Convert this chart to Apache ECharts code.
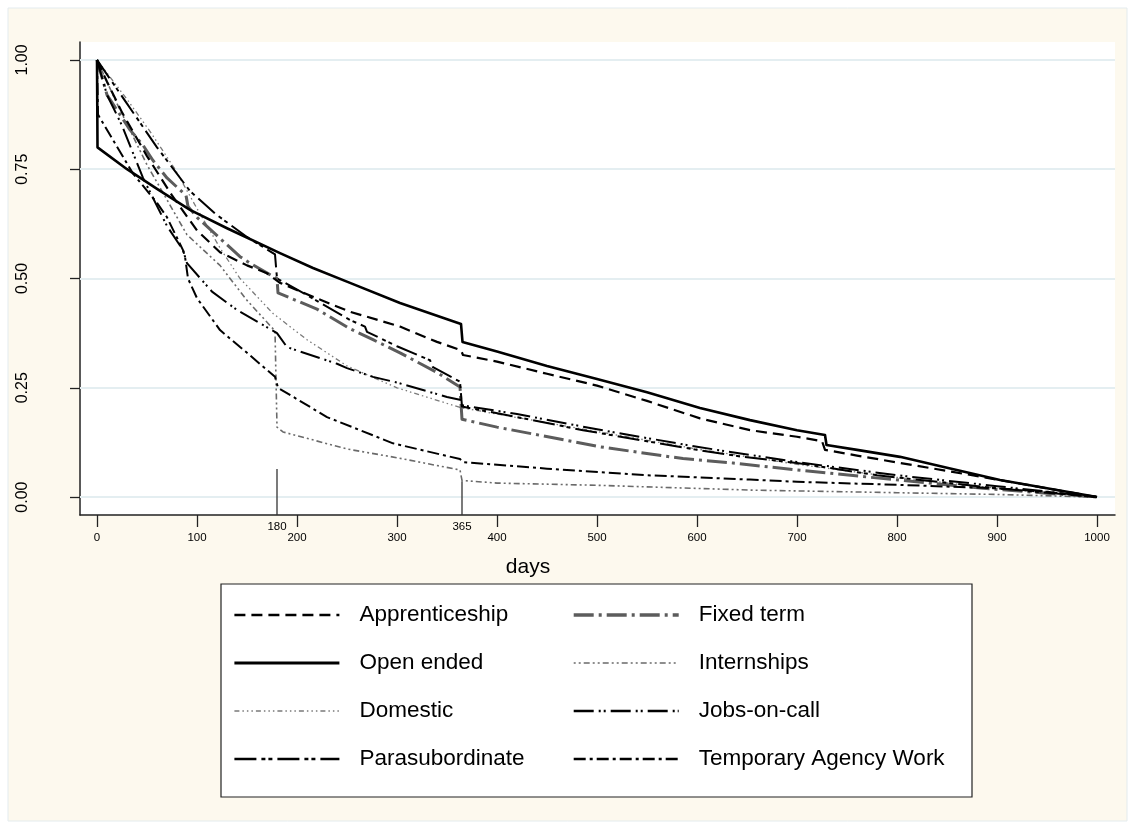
<!DOCTYPE html>
<html>
<head>
<meta charset="utf-8">
<script src="https://cdn.jsdelivr.net/npm/echarts@6/dist/echarts.min.js"></script>
<style>
html,body{margin:0;padding:0;background:#ffffff;}
#chart{width:1135px;height:830px;}
</style>
</head>
<body>
<div id="chart"></div>
<script>
// ---- data (days, survival) ----
const xTicks = [0,100,200,300,400,500,600,700,800,900,1000];
const xExtraTicks = [180,365];
const yTicks = [0,0.25,0.5,0.75,1];
const refLineDays = [180,365];
const refLineTops = [0.064,0.036];

const apprenticeship = [[0,1.0],[10,0.95],[25,0.88],[50,0.78],[75,0.69],[100,0.61],[123,0.56],[150,0.53],[170,0.512],[183,0.49],[216,0.458],[253,0.424],[303,0.39],[340,0.355],[364,0.336],[366,0.325],[400,0.31],[450,0.282],[500,0.255],[550,0.22],[603,0.18],[653,0.153],[700,0.138],[725,0.128],[728,0.108],[760,0.095],[803,0.078],[850,0.06],[900,0.04],[950,0.02],[1000,0]];
const openEnded = [[0,1.0],[0.5,0.80],[30,0.75],[60,0.705],[93,0.657],[130,0.615],[183,0.558],[216,0.524],[253,0.49],[303,0.444],[340,0.415],[364,0.396],[365.5,0.355],[400,0.333],[450,0.30],[500,0.27],[550,0.24],[603,0.204],[653,0.176],[700,0.153],[728,0.142],[729.5,0.119],[760,0.108],[803,0.092],[850,0.067],[903,0.039],[950,0.02],[1000,0]];
const domestic = [[0,1.0],[30,0.91],[55,0.83],[78,0.75],[100,0.66],[123,0.57],[143,0.50],[176,0.42],[210,0.36],[250,0.30],[300,0.25],[363,0.205],[400,0.19],[500,0.15],[600,0.11],[700,0.075],[800,0.045],[900,0.02],[1000,0]];
const parasubordinate = [[0,1.0],[30,0.90],[60,0.80],[93,0.70],[120,0.645],[150,0.595],[178,0.555],[180,0.50],[206,0.467],[253,0.405],[268,0.39],[270,0.378],[300,0.345],[333,0.313],[336,0.297],[363,0.264],[365,0.207],[420,0.183],[486,0.153],[600,0.108],[646,0.092],[700,0.078],[780,0.05],[800,0.045],[900,0.02],[1000,0]];
const fixedTerm = [[0,1.0],[10,0.92],[33,0.84],[46,0.805],[56,0.77],[70,0.73],[89,0.69],[91,0.665],[100,0.64],[143,0.55],[153,0.535],[172,0.51],[180,0.50],[181,0.467],[220,0.43],[253,0.385],[276,0.36],[303,0.33],[340,0.285],[363,0.252],[365,0.178],[400,0.16],[503,0.115],[586,0.088],[636,0.078],[700,0.062],[770,0.046],[886,0.02],[1000,0]];
const internships = [[0,1.0],[20,0.9],[50,0.76],[90,0.60],[123,0.53],[150,0.45],[178,0.38],[180,0.16],[186,0.149],[250,0.11],[300,0.09],[363,0.062],[365,0.038],[400,0.032],[500,0.027],[653,0.016],[800,0.01],[900,0.006],[1000,0]];
const jobsOnCall = [[0,1.0],[10,0.92],[25,0.85],[46,0.73],[70,0.62],[86,0.565],[90,0.535],[115,0.47],[140,0.428],[180,0.375],[190,0.343],[240,0.305],[250,0.295],[276,0.275],[300,0.262],[350,0.229],[364,0.222],[365,0.21],[420,0.19],[500,0.155],[600,0.115],[700,0.08],[800,0.05],[900,0.025],[1000,0]];
const tempAgency = [[0,1.0],[1,0.875],[16,0.817],[36,0.74],[60,0.673],[70,0.64],[86,0.565],[88,0.55],[91,0.50],[100,0.455],[123,0.382],[150,0.33],[178,0.275],[181,0.25],[230,0.183],[296,0.123],[363,0.087],[366,0.08],[450,0.065],[550,0.05],[653,0.04],[700,0.035],[800,0.028],[900,0.02],[950,0.012],[1000,0]];

const FONT = 'Liberation Sans, Arial, Helvetica, sans-serif';
const X_MIN = -17, X_MAX = 1018, Y_MIN = -0.041, Y_MAX = 1.041;

function mk(name, data, color, width, dash, z) {
  return {
    name: name, type: 'line', data: data, symbol: 'none', showSymbol: false,
    lineStyle: { color: color, width: width, type: dash, cap: 'butt', join: 'round' },
    itemStyle: { color: color }, z: z || 3, animation: false, silent: true
  };
}

const series = [
  { type: 'line', data: [], silent: true, animation: false,
    markLine: { silent: true, symbol: 'none', z: 1, animation: false, label: { show: false },
      lineStyle: { color: '#e4eef1', width: 2, type: 'solid' },
      data: yTicks.map(v => ({ yAxis: v })) } },
  mk('Internships', internships, '#6a6a6a', 1.6, [2,3,2,3,6,3]),
  mk('Domestic', domestic, '#7a7a7a', 1.3, [5,3,1.5,3,1.5,3,1.5,3]),
  mk('Fixed term', fixedTerm, '#5c5c5c', 3, [20,5,3,5]),
  mk('Temporary Agency Work', tempAgency, '#000000', 2, [12,4,3,4]),
  mk('Jobs-on-call', jobsOnCall, '#000000', 2, [20,5,2,3,2,5]),
  mk('Parasubordinate', parasubordinate, '#000000', 2, [22,5,4,3,4,5]),
  mk('Apprenticeship', apprenticeship, '#000000', 2.2, [11,6]),
  mk('Open ended', openEnded, '#000000', 2.6, 'solid', 4)
];
refLineDays.forEach((d, i) => {
  series.push({ type: 'line', data: [[d, refLineTops[i]], [d, Y_MIN]], symbol: 'none',
    lineStyle: { color: '#333', width: 1.3 }, silent: true, animation: false, z: 5 });
});

const legendCommon = {
  orient: 'vertical', top: 603, padding: 0, itemWidth: 105, itemHeight: 14, itemGap: 24,
  selectedMode: false, z: 20,
  itemStyle: { opacity: 0, borderWidth: 0 },
  textStyle: { fontFamily: FONT, fontSize: 22.5, lineHeight: 24, color: '#000', padding: [0,0,0,15] }
};
function li(name, w) { return { name: name, lineStyle: { width: w } }; }

const option = {
  backgroundColor: '#ffffff',
  animation: false,
  textStyle: { fontFamily: FONT },
  graphic: [
    { type: 'rect', shape: { x: 8, y: 8, width: 1119, height: 813 }, z: -100, silent: true,
      style: { fill: '#fdf9ee', stroke: '#e3ebee', lineWidth: 1 } },
    { type: 'rect', shape: { x: 221, y: 584, width: 751, height: 213 }, z: -50, silent: true,
      style: { fill: '#ffffff', stroke: '#222', lineWidth: 1.2 } },
    { type: 'text', x: 528, y: 567, z: 10, silent: true,
      style: { text: 'days', font: '21px ' + FONT, fill: '#000', textAlign: 'center', textVerticalAlign: 'middle' } }
  ],
  legend: [
    Object.assign({}, legendCommon, { left: 233, data: [li('Apprenticeship', 2.6), li('Open ended', 2.8), li('Domestic', 1.4), li('Parasubordinate', 2.6)] }),
    Object.assign({}, legendCommon, { left: 572, data: [li('Fixed term', 3.4), li('Internships', 1.6), li('Jobs-on-call', 2.6), li('Temporary Agency Work', 2.6)] })
  ],
  grid: { left: 80, top: 42, right: 20, bottom: 315, show: true, backgroundColor: '#ffffff', borderWidth: 0 },
  xAxis: [
    { type: 'value', min: X_MIN, max: X_MAX,
      axisLine: { show: true, onZero: false, lineStyle: { color: '#222', width: 1.5 } },
      axisTick: { show: true, length: 12, customValues: xTicks, lineStyle: { color: '#222', width: 1.3 } },
      axisLabel: { show: true, customValues: xTicks, margin: 17, fontSize: 11.5, color: '#000', fontFamily: FONT,
        formatter: v => String(v) },
      splitLine: { show: false } },
    { type: 'value', min: X_MIN, max: X_MAX, position: 'bottom', gridIndex: 0,
      axisLine: { show: false }, axisTick: { show: false },
      axisLabel: { show: true, customValues: xExtraTicks, margin: 6, fontSize: 11.5, color: '#000', fontFamily: FONT,
        formatter: v => String(v) },
      splitLine: { show: false } }
  ],
  yAxis: { type: 'value', min: Y_MIN, max: Y_MAX,
    axisLine: { show: true, onZero: false, lineStyle: { color: '#222', width: 1.5 } },
    axisTick: { show: true, length: 10, customValues: yTicks, lineStyle: { color: '#222', width: 1.3 } },
    axisLabel: { show: true, customValues: yTicks, rotate: 90, margin: 49, fontSize: 16, color: '#000', fontFamily: FONT,
      formatter: v => v.toFixed(2) },
    splitLine: { show: false } },
  series: series
};

const chart = echarts.init(document.getElementById('chart'), null, { renderer: 'canvas' });
chart.setOption(option);
</script>
</body>
</html>
